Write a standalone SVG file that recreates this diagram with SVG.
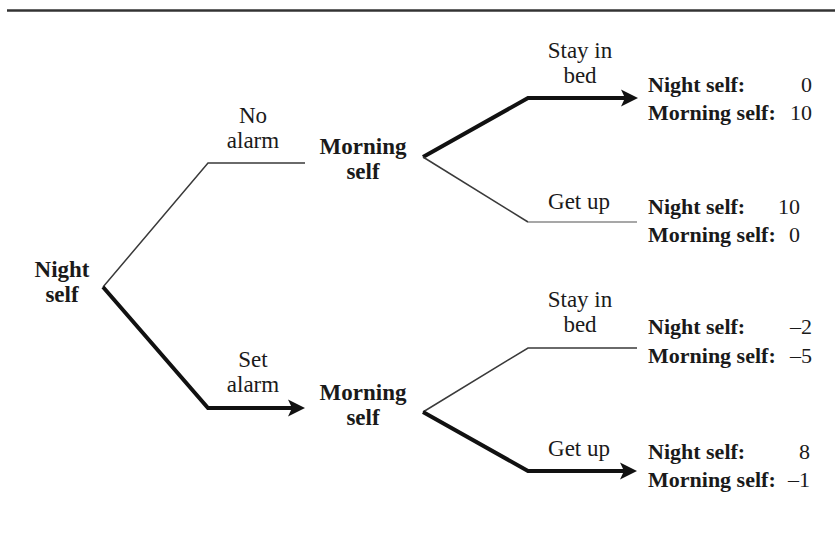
<svg xmlns="http://www.w3.org/2000/svg" width="835" height="542" viewBox="0 0 835 542">
  <style>
    text { font-family: "Liberation Serif", "Times New Roman", serif; fill: #1a1a1a; }
    .node { font-size: 23px; font-weight: bold; text-anchor: middle; }
    .lbl { font-size: 23px; text-anchor: middle; }
    .pay { font-size: 22px; font-weight: bold; }
    .num { font-size: 22px; text-anchor: end; }
    .thin { fill: none; stroke: #3a3a3a; stroke-width: 1.5; }
    .light { fill: none; stroke: #8a8a8a; stroke-width: 1.5; }
    .thick { fill: none; stroke: #111; stroke-width: 4; stroke-linejoin: miter; }
  </style>
  <defs>
    <marker id="arr" markerUnits="userSpaceOnUse" viewBox="-6 -9 20 18" refX="0" refY="0" markerWidth="20" markerHeight="18" orient="auto">
      <path d="M12,0 L-5,-8.5 L-1,0 L-5,8.5 Z" fill="#111"/>
    </marker>
  </defs>
  <rect width="835" height="542" fill="#fff"/>
  <line x1="7" y1="10.5" x2="835" y2="10.5" stroke="#333" stroke-width="2.5"/>

  <g id="connectors">
    <polyline class="thin" points="103,287 208,163 305,163"/>
    <polyline class="thick" points="103,287 208,408 293,408" marker-end="url(#arr)"/>
    <polyline class="thick" points="423,157 528,98 626,98" marker-end="url(#arr)"/>
    <polyline class="thin" points="423,157 528,222"/>
    <line class="light" x1="528" y1="222" x2="637" y2="222"/>
    <polyline class="thin" points="423,412 528,348 637,348"/>
    <polyline class="thick" points="423,412 528,471 625,471" marker-end="url(#arr)"/>
  </g>

  <g id="edge-labels">
    <text class="lbl" x="253" y="123">No</text>
    <text class="lbl" x="253" y="148">alarm</text>
    <text class="lbl" x="253" y="367">Set</text>
    <text class="lbl" x="253" y="392">alarm</text>
    <text class="lbl" x="580" y="58">Stay in</text>
    <text class="lbl" x="580" y="83">bed</text>
    <text class="lbl" x="579" y="209">Get up</text>
    <text class="lbl" x="580" y="307">Stay in</text>
    <text class="lbl" x="580" y="332">bed</text>
    <text class="lbl" x="579" y="456">Get up</text>
  </g>

  <g id="night-self">
    <text class="node" x="62" y="277">Night</text>
    <text class="node" x="62" y="302">self</text>
  </g>
  <g id="morning-self-top">
    <text class="node" x="363" y="154">Morning</text>
    <text class="node" x="363" y="179">self</text>
  </g>
  <g id="morning-self-bottom">
    <text class="node" x="363" y="400">Morning</text>
    <text class="node" x="363" y="425">self</text>
  </g>

  <g id="payoff-1">
    <text class="pay" x="648" y="92">Night self:</text>
    <text class="num" x="812" y="92">0</text>
    <text class="pay" x="648" y="120">Morning self:</text>
    <text class="num" x="812" y="120">10</text>
  </g>
  <g id="payoff-2">
    <text class="pay" x="648" y="214">Night self:</text>
    <text class="num" x="800" y="214">10</text>
    <text class="pay" x="648" y="242">Morning self:</text>
    <text class="num" x="800" y="242">0</text>
  </g>
  <g id="payoff-3">
    <text class="pay" x="648" y="334">Night self:</text>
    <text class="num" x="812" y="334">–2</text>
    <text class="pay" x="648" y="363">Morning self:</text>
    <text class="num" x="812" y="363">–5</text>
  </g>
  <g id="payoff-4">
    <text class="pay" x="648" y="459">Night self:</text>
    <text class="num" x="810" y="459">8</text>
    <text class="pay" x="648" y="487">Morning self:</text>
    <text class="num" x="810" y="487">–1</text>
  </g>
</svg>
